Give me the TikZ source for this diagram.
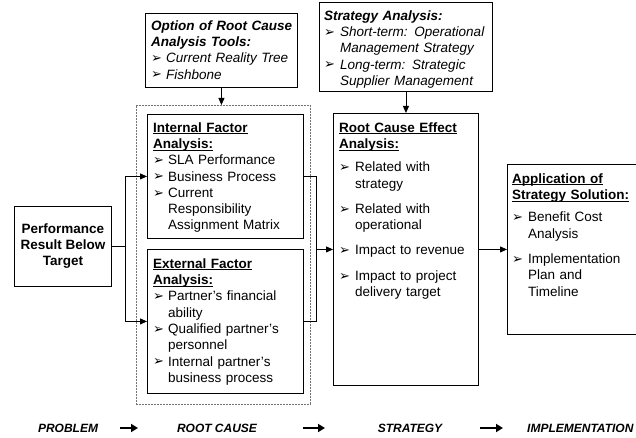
\documentclass[tikz,border=0pt]{standalone}
\usepackage{fontspec}
\setmainfont{Liberation Sans}
\newfontfamily\symfont{DejaVu Sans}
\usetikzlibrary{arrows.meta}
\newcommand\bul{{\symfont\fontsize{13}{13}\selectfont\raisebox{0.2pt}{➢}}}
\newcommand\bitem[2][15pt]{\par\hangindent=#1\hangafter=1\noindent\makebox[#1][l]{\bul}#2}
\newcommand\nl{\hfil\break}
\newcommand\ulx[1]{\setbox0\hbox{#1}\rlap{\rule[-2pt]{\wd0}{0.9pt}}\box0}
\newcommand\fs{\rule{0pt}{10pt}}
\tikzset{
  box/.style={draw, line width=0.9pt, inner sep=0pt, anchor=north west},
  dashbox/.style={draw=black!55, line width=0.8pt, dash pattern=on 2pt off 1pt, inner sep=0pt, anchor=north west},
  txt/.style={anchor=north west, inner sep=0pt, align=left, text width=#1, font=\fontsize{13.5}{16.3}\selectfont},
  conn/.style={line width=0.9pt},
  arr/.style={line width=0.9pt, -{Triangle[length=7pt,width=6pt]}},
  bigarr/.style={line width=1.8pt, -{Triangle[length=7pt,width=8pt]}},
  stage/.style={anchor=base, inner sep=0pt, font=\fontsize{12}{14}\selectfont\bfseries\itshape}
}
\begin{document}
\begin{tikzpicture}[x=1pt,y=-1pt]
\useasboundingbox (0,0) rectangle (636,438);
\clip (0,0) rectangle (636,438);
\fill[white] (0,0) rectangle (636,438);

% boxes
\node[box, minimum width=152pt, minimum height=74pt] (opt) at (145,13) {};
\node[box, minimum width=173pt, minimum height=89pt] (strat) at (319,2) {};
\node[dashbox, minimum width=174pt, minimum height=299pt] (dash) at (136,105) {};
\node[box, minimum width=156pt, minimum height=124pt] (intl) at (147,114) {};
\node[box, minimum width=156pt, minimum height=144pt] (extl) at (147,249) {};
\node[box, minimum width=97pt, minimum height=80pt] (perf) at (14,206) {};
\node[box, minimum width=145pt, minimum height=272pt] (root) at (333,113) {};
\node[box, minimum width=150pt, minimum height=170pt] (app) at (507,164) {};

% texts
\node[txt=150pt] (optT) at (151,20) {\noindent\fs\textbf{\textit{Option of Root Cause}}\\\textbf{\textit{Analysis Tools:}}\bitem{\textit{Current Reality Tree}}\bitem{\textit{Fishbone}}\par};

\node[txt=170pt] (stratT) at (324,10) {\noindent\fs\textbf{\textit{Strategy Analysis:}}\bitem[16pt]{\textit{Short-term: Operational}\nl\textit{Management Strategy}}\bitem[16pt]{\textit{Long-term: Strategic}\nl\textit{Supplier Management}}\par};

\node[txt=160pt] (intlT) at (153,122) {\noindent\fs\textbf{\ulx{Internal Factor}}\\\textbf{\ulx{Analysis:}}\bitem{SLA Performance}\bitem{Business Process}\bitem{Current\nl Responsibility\nl Assignment Matrix}\par};

\node[txt=160pt] (extlT) at (153,258) {\noindent\fs\textbf{\ulx{External Factor}}\\\textbf{\ulx{Analysis:}}\bitem{Partner's financial\nl ability}\bitem{Qualified partner's\nl personnel}\bitem{Internal partner's\nl business process}\par};

\node[txt=160pt] (rootT) at (339,122) {\noindent\fs\textbf{\ulx{Root Cause Effect}}\\\textbf{\ulx{Analysis:}}\par\vspace{7pt}\bitem[16pt]{Related with\nl strategy}\par\vspace{9pt}\bitem[16pt]{Related with\nl operational}\par\vspace{9pt}\bitem[16pt]{Impact to revenue}\par\vspace{9pt}\bitem[16pt]{Impact to project\nl delivery target}\par};

\node[txt=160pt] (appT) at (512,173) {\noindent\fs\textbf{\ulx{Application of}}\\\textbf{\ulx{Strategy Solution:}}\par\vspace{6pt}\bitem[16pt]{Benefit Cost\nl Analysis}\par\vspace{9pt}\bitem[16pt]{Implementation\nl Plan and\nl Timeline}\par};

\node[align=center, inner sep=0pt, font=\fontsize{13.5}{16}\selectfont\bfseries] (perfT) at (perf.center) {Performance\\Result Below\\Target};

% connectors
\draw[arr] (opt.south) -- (opt.south |- dash.north);
\draw[arr] (strat.south) -- (strat.south |- root.north);

\coordinate (sp) at (125,0);
\draw[conn] (perf.east) -- (perf.east -| sp);
\draw[arr] (perf.east -| sp) |- (intl.west);
\draw[arr] (perf.east -| sp) |- (extl.west);

\coordinate (jp) at (316,0);
\draw[conn] (intl.east) -- (intl.east -| jp) -- (extl.east -| jp) -- (extl.east);
\draw[arr] (root.west -| jp) -- (root.west);
\draw[arr] (root.east) -- (root.east -| app.west);

% stages
\node[stage] (s1) at (68,432) {PROBLEM};
\node[stage] (s2) at (217,432) {ROOT CAUSE};
\node[stage] (s3) at (410,432) {STRATEGY};
\node[stage, anchor=base west] (s4) at (527,432) {IMPLEMENTATION};
\coordinate (a1s) at (120,428); \coordinate (a1e) at (138,428);
\coordinate (a2s) at (303,428); \coordinate (a2e) at (325,428);
\coordinate (a3s) at (480,428); \coordinate (a3e) at (503,428);
\draw[bigarr] (a1s) -- (a1e);
\draw[bigarr] (a2s) -- (a2e);
\draw[bigarr] (a3s) -- (a3e);
\end{tikzpicture}
\end{document}
